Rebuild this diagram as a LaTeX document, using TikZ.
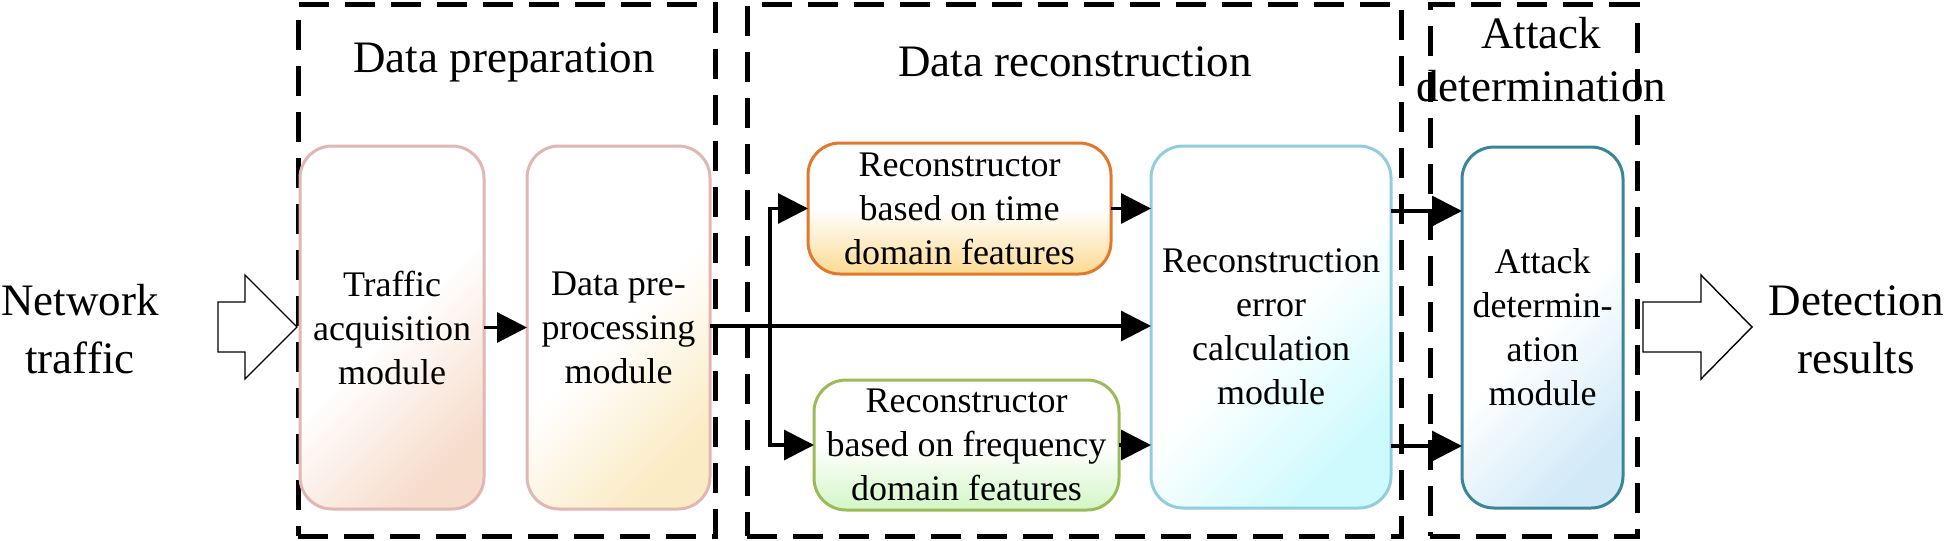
\documentclass[tikz,border=0pt]{standalone}
\usepackage{fontspec}
\newfontfamily\tnr{LiberationSerif-Regular.ttf}
\usetikzlibrary{arrows.meta,calc}
\definecolor{pinkb}{HTML}{E2B6B2}
\definecolor{peach}{HTML}{F6DCCB}
\definecolor{cream}{HTML}{FBEBC4}
\definecolor{orangeb}{HTML}{E3782A}
\definecolor{orangef}{HTML}{FCDA92}
\definecolor{greenb}{HTML}{9BBB59}
\definecolor{greenf}{HTML}{D3F6C6}
\definecolor{blueb}{HTML}{93CDDD}
\definecolor{cyanf}{HTML}{CCFAFD}
\definecolor{tealb}{HTML}{3A8599}
\definecolor{skyf}{HTML}{D2EAF8}
\begin{document}
\begin{tikzpicture}[x=0.5pt,y=-0.5pt,
  mod/.style={draw, line width=1.5pt, rounded corners=16pt, align=center,
    inner sep=0pt, outer sep=0pt, font=\tnr\fontsize{18}{22}\selectfont},
  diag/.style={top color=white, bottom color=#1, middle color=white, shading angle=45},
  vert/.style={top color=white, bottom color=#1, middle color=white},
  arr/.style={line width=1.6pt, -{Triangle[length=15pt,width=15pt]}},
  grp/.style={draw, line width=2.5pt, dash pattern=on 15pt off 8pt,
    inner sep=0pt, outer sep=0pt},
  ttl/.style={align=center, font=\tnr\fontsize{22.5}{26.5}\selectfont},
  big/.style={align=center, font=\tnr\fontsize{22.5}{29}\selectfont},
  hollow/.style={draw, line width=0.7pt, fill=white}]
\useasboundingbox (0,0) rectangle (1946,540);

% group frames
\node[grp, minimum width=208.5pt, minimum height=265.5pt] (g1) at (506.5,270.5) {};
\node[grp, minimum width=327pt, minimum height=265.5pt] (g2) at (1074,270.5) {};
\node[grp, minimum width=103.5pt, minimum height=265.5pt] (g3) at (1533.5,270.5) {};

% titles
\node[ttl] (t1) at (504,62) {Data preparation};
\node[ttl] (t2) at (1075,62) {Data reconstruction};
\node[ttl] (t3) at (1541,60) {Attack\\determination};

% modules
\node[mod, draw=pinkb, diag=peach, minimum width=92pt, minimum height=181.5pt]
  (traffic) at (392,327.5) {Traffic\\acquisition\\module};
\node[mod, draw=pinkb, diag=cream, minimum width=91.5pt, minimum height=181.5pt]
  (prep) at (618.5,327.5) {Data pre-\\processing\\module};
\node[mod, draw=orangeb, vert=orangef, minimum width=151.5pt, minimum height=65.5pt]
  (time) at (959.5,208.5) {Reconstructor\\based on time\\domain features};
\node[mod, draw=greenb, vert=greenf, minimum width=152.5pt, minimum height=65pt]
  (freq) at (966.5,445) {Reconstructor\\based on frequency\\domain features};
\node[mod, draw=blueb, diag=cyanf, minimum width=120pt, minimum height=181pt]
  (err) at (1271,327) {Reconstruction\\error\\calculation\\module};
\node[mod, draw=tealb, diag=skyf, minimum width=80.5pt, minimum height=180.5pt]
  (att) at (1542.5,327.5) {Attack\\determin-\\ation\\module};

% outer texts
\node[big] (net) at (80,329) {Network\\traffic};
\node[big] (det) at (1856,330) {Detection\\results};

% hollow arrows
\draw[hollow] (218,302) -- (245,302) -- (245,275) -- (297,327) -- (245,379)
  -- (245,352) -- (218,352) -- cycle;
\draw[hollow] (1643,302) -- (1701,302) -- (1701,275) -- (1752,327) -- (1701,379)
  -- (1701,352) -- (1643,352) -- cycle;

% connectors
\coordinate (br) at (770,326);
\coordinate (ya) at (0,211);
\coordinate (yb) at (0,446);
\draw[arr] (traffic) -- (prep);
\draw[arr] (prep.east |- br) -- (err.west |- br);
\draw[arr] (br) |- (time.west);
\draw[arr] (br) |- (freq.west);
\draw[arr] (time.east) -- (time.east -| err.west);
\draw[arr] (freq.east) -- (freq.east -| err.west);
\draw[arr] (err.east |- ya) -- (att.west |- ya);
\draw[arr] (err.east |- yb) -- (att.west |- yb);
\end{tikzpicture}
\end{document}
